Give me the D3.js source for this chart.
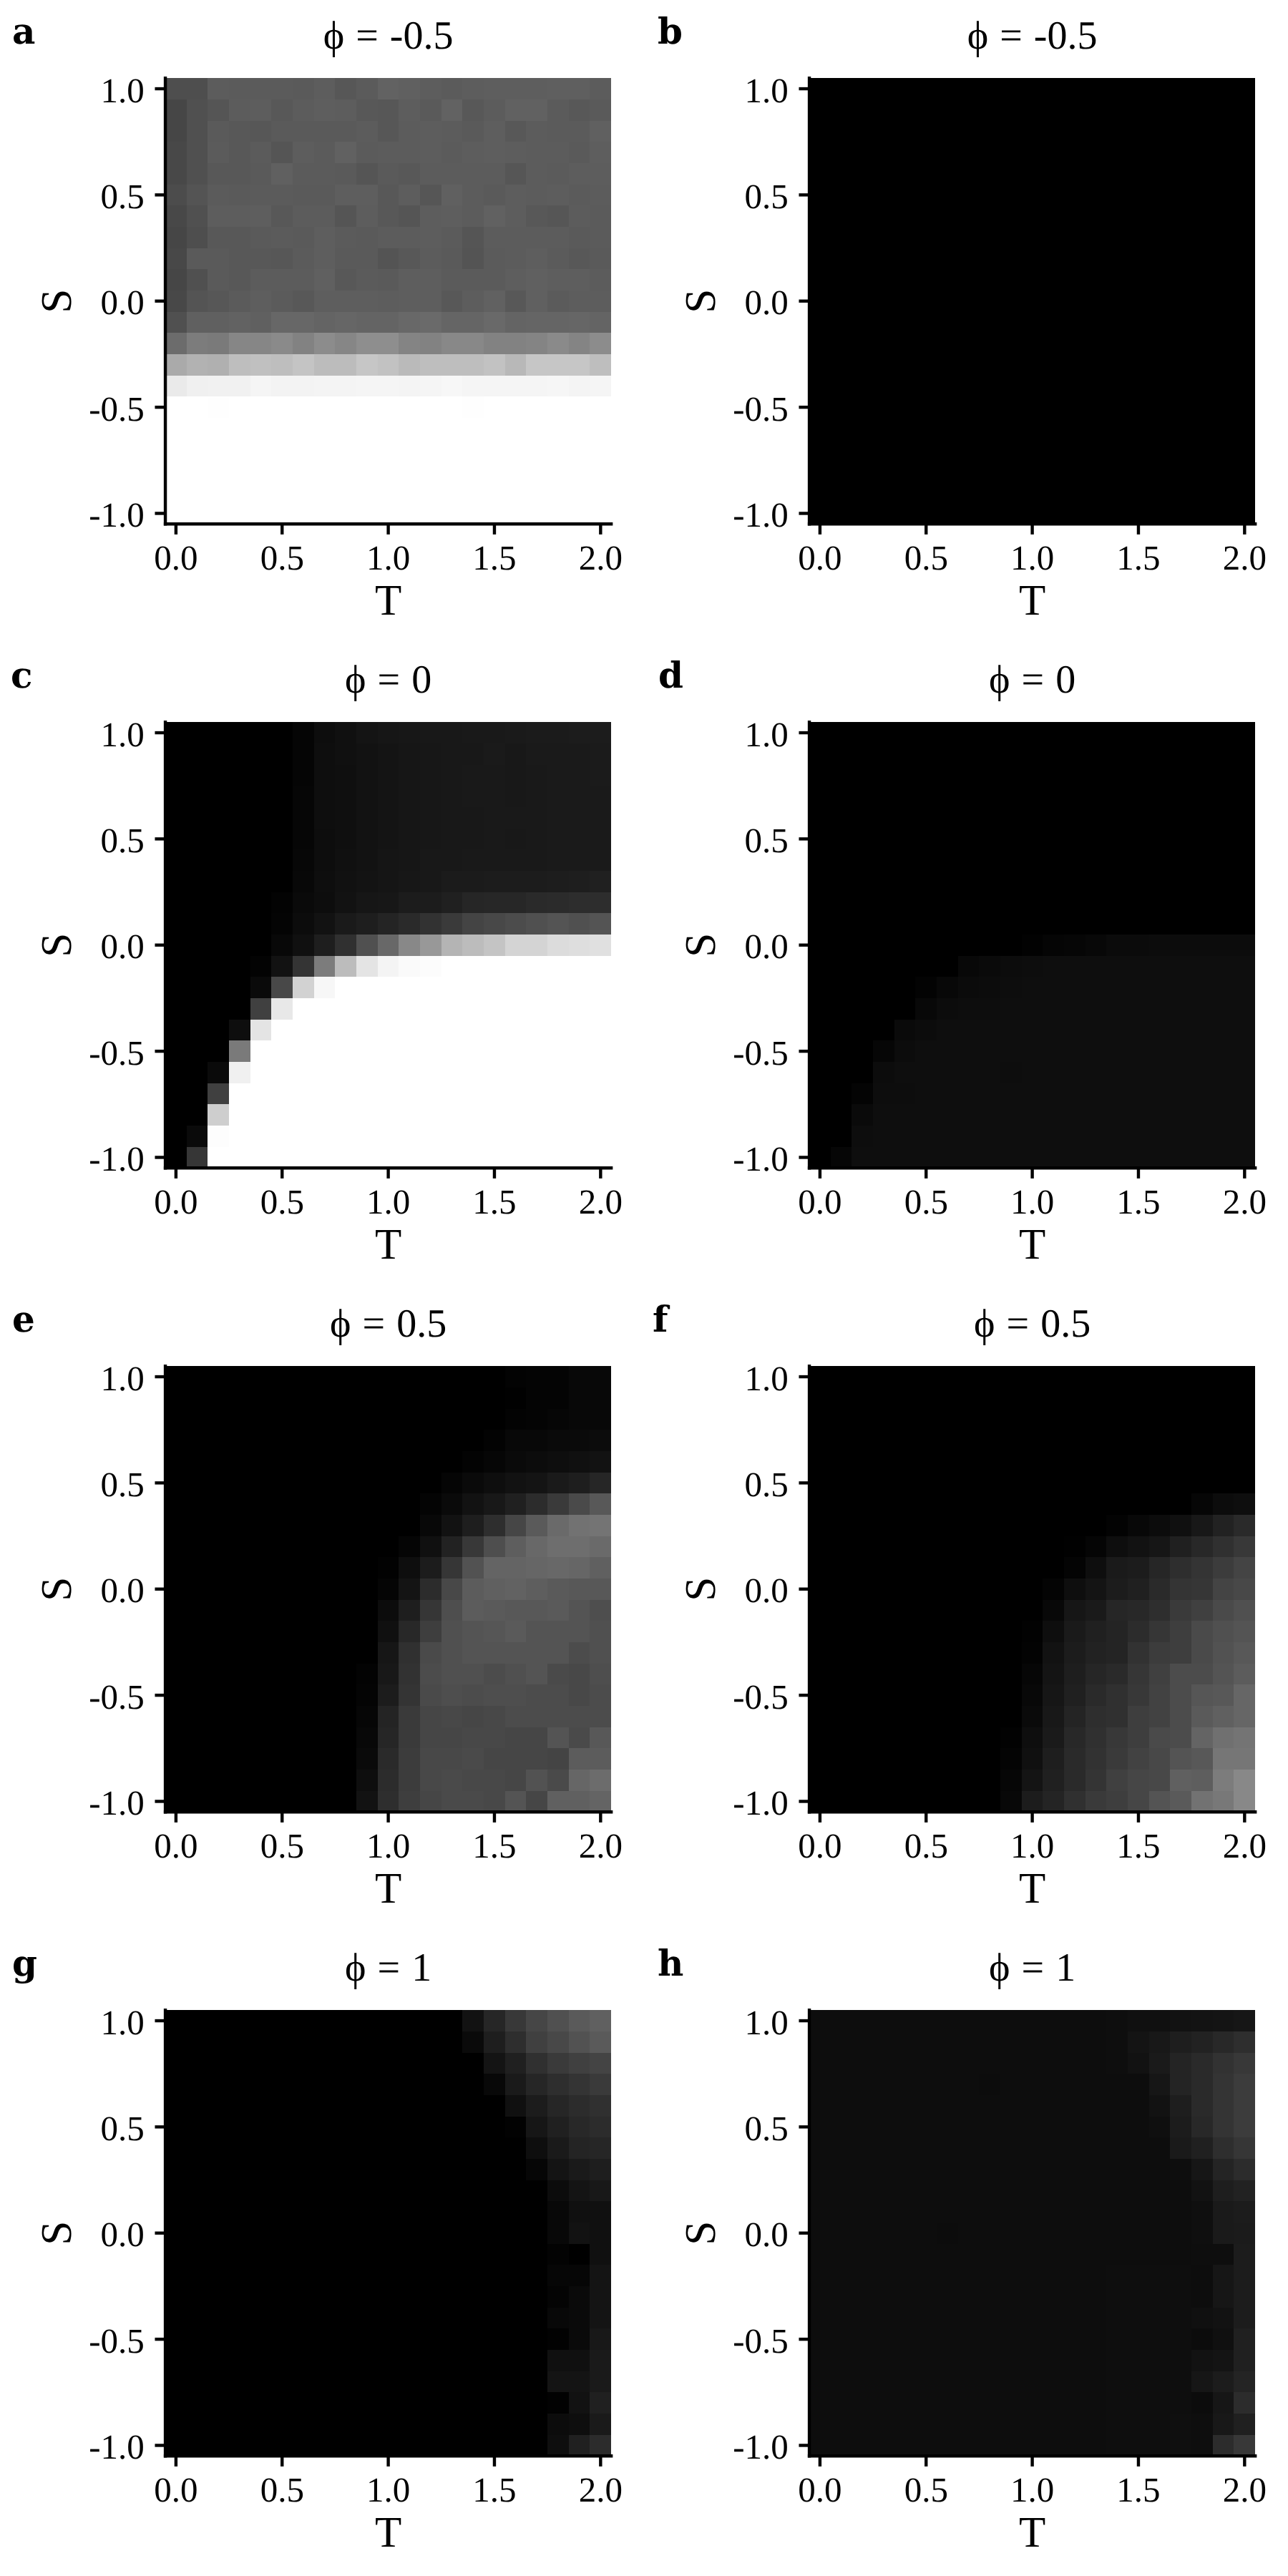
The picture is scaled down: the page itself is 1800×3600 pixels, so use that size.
<!DOCTYPE html>
<html>
<head>
<meta charset="utf-8">
<script src="https://cdn.jsdelivr.net/npm/d3@7/dist/d3.min.js"></script>
<style>
html,body{margin:0;padding:0;background:#fff}
svg{display:block}
text{font-family:"Liberation Serif",serif;fill:#000;text-rendering:geometricPrecision}
</style>
</head>
<body>
<svg id="chart" width="1800" height="3600"></svg>
<script>
// Cell values are grey levels, 0 = black, 255 = white. Rows run from S = 1.0 down to S = -1.0.
const tValues = [0,0.1,0.2,0.3,0.4,0.5,0.6,0.7,0.8,0.9,1,1.1,1.2,1.3,1.4,1.5,1.6,1.7,1.8,1.9,2];
const sValues = [1,0.9,0.8,0.7,0.6,0.5,0.4,0.3,0.2,0.1,0,-0.1,-0.2,-0.3,-0.4,-0.5,-0.6,-0.7,-0.8,-0.9,-1];
const tTicks = [0,0.5,1,1.5,2];
const sTicks = [-1,-0.5,0,0.5,1];
const letters = ["a","b","c","d","e","f","g","h"];
const titles = ["ϕ = -0.5","ϕ = -0.5","ϕ = 0","ϕ = 0","ϕ = 0.5","ϕ = 0.5","ϕ = 1","ϕ = 1"];

const panelA = [
[78,78,92,91,91,91,90,93,87,91,98,96,93,91,93,94,94,94,95,95,92],
[70,80,85,92,93,88,92,94,93,88,87,93,90,98,88,92,97,97,91,88,90],
[70,80,90,88,87,90,90,90,90,92,87,92,93,92,90,94,88,92,91,91,96],
[72,80,91,88,91,85,93,91,97,91,92,92,93,91,93,94,93,92,92,90,94],
[72,80,88,88,90,96,91,91,90,85,90,88,92,92,92,92,86,92,91,93,93],
[76,84,91,90,91,91,90,90,94,94,88,93,86,96,92,90,93,92,93,91,92],
[72,80,93,93,94,88,92,92,85,93,88,85,93,94,92,97,93,88,86,92,91],
[70,78,88,88,90,91,90,94,91,90,92,92,93,91,85,92,92,92,92,90,91],
[72,90,90,88,88,87,91,94,90,90,84,88,92,90,84,91,92,94,91,88,90],
[70,80,90,88,92,92,92,96,88,91,90,94,94,91,91,91,94,96,94,94,92],
[72,84,87,91,94,91,88,94,94,94,93,94,94,88,93,97,88,96,91,93,93],
[80,96,96,98,96,103,103,100,102,100,100,104,106,101,101,105,100,101,101,102,100],
[108,124,122,134,134,138,130,140,134,142,142,132,130,136,136,130,130,132,138,132,140],
[170,178,176,190,192,190,196,188,188,198,194,186,190,190,190,194,184,198,198,198,190],
[234,240,241,241,245,243,243,244,244,245,245,244,245,247,245,245,245,245,246,244,245],
[255,255,254,255,255,255,255,255,255,255,255,255,255,255,254,255,255,255,255,255,255],
[255,255,255,255,255,255,255,255,255,255,255,255,255,255,255,255,255,255,255,255,255],
[255,255,255,255,255,255,255,255,255,255,255,255,255,255,255,255,255,255,255,255,255],
[255,255,255,255,255,255,255,255,255,255,255,255,255,255,255,255,255,255,255,255,255],
[255,255,255,255,255,255,255,255,255,255,255,255,255,255,255,255,255,255,255,255,255],
[255,255,255,255,255,255,255,255,255,255,255,255,255,255,255,255,255,255,255,255,255]
];
const panelB = [
[0,0,0,0,0,0,0,0,0,0,0,0,0,0,0,0,0,0,0,0,0],
[0,0,0,0,0,0,0,0,0,0,0,0,0,0,0,0,0,0,0,0,0],
[0,0,0,0,0,0,0,0,0,0,0,0,0,0,0,0,0,0,0,0,0],
[0,0,0,0,0,0,0,0,0,0,0,0,0,0,0,0,0,0,0,0,0],
[0,0,0,0,0,0,0,0,0,0,0,0,0,0,0,0,0,0,0,0,0],
[0,0,0,0,0,0,0,0,0,0,0,0,0,0,0,0,0,0,0,0,0],
[0,0,0,0,0,0,0,0,0,0,0,0,0,0,0,0,0,0,0,0,0],
[0,0,0,0,0,0,0,0,0,0,0,0,0,0,0,0,0,0,0,0,0],
[0,0,0,0,0,0,0,0,0,0,0,0,0,0,0,0,0,0,0,0,0],
[0,0,0,0,0,0,0,0,0,0,0,0,0,0,0,0,0,0,0,0,0],
[0,0,0,0,0,0,0,0,0,0,0,0,0,0,0,0,0,0,0,0,0],
[0,0,0,0,0,0,0,0,0,0,0,0,0,0,0,0,0,0,0,0,0],
[0,0,0,0,0,0,0,0,0,0,0,0,0,0,0,0,0,0,0,0,0],
[0,0,0,0,0,0,0,0,0,0,0,0,0,0,0,0,0,0,0,0,0],
[0,0,0,0,0,0,0,0,0,0,0,0,0,0,0,0,0,0,0,0,0],
[0,0,0,0,0,0,0,0,0,0,0,0,0,0,0,0,0,0,0,0,0],
[0,0,0,0,0,0,0,0,0,0,0,0,0,0,0,0,0,0,0,0,0],
[0,0,0,0,0,0,0,0,0,0,0,0,0,0,0,0,0,0,0,0,0],
[0,0,0,0,0,0,0,0,0,0,0,0,0,0,0,0,0,0,0,0,0],
[0,0,0,0,0,0,0,0,0,0,0,0,0,0,0,0,0,0,0,0,0],
[0,0,0,0,0,0,0,0,0,0,0,0,0,0,0,0,0,0,0,0,0]
];
const panelC = [
[0,0,0,0,0,0,5,13,16,20,22,23,24,24,25,25,26,27,27,28,28],
[0,0,0,0,0,0,5,14,16,18,20,22,23,24,24,26,24,26,26,26,27],
[0,0,0,0,0,0,5,14,15,18,20,22,23,24,25,25,24,25,26,26,27],
[0,0,0,0,0,0,6,14,15,18,20,22,23,24,25,25,24,25,26,26,26],
[0,0,0,0,0,0,6,14,15,18,20,22,23,24,24,25,25,25,26,26,26],
[0,0,0,0,0,0,6,13,15,18,20,22,23,24,24,25,24,25,26,26,26],
[0,0,0,0,0,0,7,13,16,18,21,22,24,24,25,25,25,25,26,26,26],
[0,0,0,0,0,0,8,14,17,19,21,23,24,27,27,28,28,28,29,30,32],
[0,0,0,0,0,3,10,13,18,22,23,28,28,32,38,39,39,42,43,45,45],
[0,0,0,0,0,4,12,18,26,30,36,42,50,58,68,72,76,80,84,80,84],
[0,0,0,0,0,8,16,30,48,80,104,136,152,180,188,196,212,212,220,222,224],
[0,0,0,0,3,18,52,124,188,228,244,250,252,255,255,255,255,255,255,255,255],
[0,0,0,0,10,72,210,247,255,255,255,255,255,255,255,255,255,255,255,255,255],
[0,0,0,0,64,232,255,255,255,255,255,255,255,255,255,255,255,255,255,255,255],
[0,0,0,14,228,255,255,255,255,255,255,255,255,255,255,255,255,255,255,255,255],
[0,0,0,122,255,255,255,255,255,255,255,255,255,255,255,255,255,255,255,255,255],
[0,0,10,240,255,255,255,255,255,255,255,255,255,255,255,255,255,255,255,255,255],
[0,0,64,255,255,255,255,255,255,255,255,255,255,255,255,255,255,255,255,255,255],
[0,0,206,255,255,255,255,255,255,255,255,255,255,255,255,255,255,255,255,255,255],
[0,10,253,255,255,255,255,255,255,255,255,255,255,255,255,255,255,255,255,255,255],
[0,54,255,255,255,255,255,255,255,255,255,255,255,255,255,255,255,255,255,255,255]
];
const panelD = [
[0,0,0,0,0,0,0,0,0,0,0,0,0,0,0,0,0,0,0,0,0],
[0,0,0,0,0,0,0,0,0,0,0,0,0,0,0,0,0,0,0,0,0],
[0,0,0,0,0,0,0,0,0,0,0,0,0,0,0,0,0,0,0,0,0],
[0,0,0,0,0,0,0,0,0,0,0,0,0,0,0,0,0,0,0,0,0],
[0,0,0,0,0,0,0,0,0,0,0,0,0,0,0,0,0,0,0,0,0],
[0,0,0,0,0,0,0,0,0,0,0,0,0,0,0,0,0,0,0,0,0],
[0,0,0,0,0,0,0,0,0,0,0,0,0,0,0,0,0,0,0,0,0],
[0,0,0,0,0,0,0,0,0,0,0,0,0,0,0,0,0,0,0,0,0],
[0,0,0,0,0,0,0,0,0,0,0,0,0,0,0,0,0,0,0,0,0],
[0,0,0,0,0,0,0,0,0,0,0,0,0,0,0,0,0,0,0,0,0],
[0,0,0,0,0,0,0,0,0,0,2,5,6,8,11,11,12,12,12,12,12],
[0,0,0,0,0,0,0,8,10,12,13,14,14,14,14,14,14,14,14,14,14],
[0,0,0,0,0,3,8,11,12,13,14,14,14,14,14,14,14,14,14,14,14],
[0,0,0,0,0,8,12,13,13,14,14,14,14,14,14,14,14,14,14,14,14],
[0,0,0,0,10,12,14,14,14,14,14,14,14,14,14,14,14,14,14,14,14],
[0,0,0,6,12,14,14,14,14,14,14,14,14,14,14,14,14,14,14,14,14],
[0,0,0,12,14,14,14,14,14,13,14,14,14,14,14,14,14,14,14,14,14],
[0,0,4,13,13,14,14,14,14,14,14,14,14,14,14,14,14,14,14,14,14],
[0,0,10,14,14,14,14,14,14,14,14,14,14,14,14,14,14,14,14,14,14],
[0,0,13,14,14,14,14,14,14,14,14,14,14,14,14,14,14,14,14,14,14],
[0,6,14,14,14,14,14,14,14,14,14,14,14,14,14,14,14,14,14,14,14]
];
const panelE = [
[0,0,0,0,0,0,0,0,0,0,0,0,0,0,0,0,3,4,4,8,8],
[0,0,0,0,0,0,0,0,0,0,0,0,0,0,0,0,1,4,4,8,8],
[0,0,0,0,0,0,0,0,0,0,0,0,0,0,0,0,3,4,6,8,8],
[0,0,0,0,0,0,0,0,0,0,0,0,0,0,0,3,8,8,10,10,12],
[0,0,0,0,0,0,0,0,0,0,0,0,0,0,3,6,10,12,14,16,18],
[0,0,0,0,0,0,0,0,0,0,0,0,0,5,10,14,18,20,26,30,38],
[0,0,0,0,0,0,0,0,0,0,0,0,4,10,18,24,32,44,58,74,88],
[0,0,0,0,0,0,0,0,0,0,0,0,8,18,30,46,70,90,106,114,116],
[0,0,0,0,0,0,0,0,0,0,0,5,16,34,56,78,94,104,110,110,106],
[0,0,0,0,0,0,0,0,0,0,2,14,28,54,82,100,100,102,104,102,96],
[0,0,0,0,0,0,0,0,0,0,5,20,44,72,92,96,98,94,90,88,88],
[0,0,0,0,0,0,0,0,0,0,12,30,54,78,92,90,88,88,90,84,78],
[0,0,0,0,0,0,0,0,0,0,16,40,62,80,84,86,90,84,84,84,80],
[0,0,0,0,0,0,0,0,0,0,22,48,74,80,84,84,84,84,84,76,80],
[0,0,0,0,0,0,0,0,0,3,24,50,76,80,80,76,80,84,74,72,78],
[0,0,0,0,0,0,0,0,0,4,28,52,74,78,76,78,78,76,76,72,76],
[0,0,0,0,0,0,0,0,0,6,36,58,70,72,70,72,76,76,76,76,76],
[0,0,0,0,0,0,0,0,0,8,38,58,70,70,72,72,70,70,84,74,88],
[0,0,0,0,0,0,0,0,0,10,42,60,72,72,74,70,70,70,68,92,92],
[0,0,0,0,0,0,0,0,0,14,44,60,72,74,72,72,70,82,74,102,108],
[0,0,0,0,0,0,0,0,0,18,46,62,70,74,74,72,84,70,96,96,100]
];
const panelF = [
[0,0,0,0,0,0,0,0,0,0,0,0,0,0,0,0,0,0,0,0,0],
[0,0,0,0,0,0,0,0,0,0,0,0,0,0,0,0,0,0,0,0,0],
[0,0,0,0,0,0,0,0,0,0,0,0,0,0,0,0,0,0,0,0,0],
[0,0,0,0,0,0,0,0,0,0,0,0,0,0,0,0,0,0,0,0,0],
[0,0,0,0,0,0,0,0,0,0,0,0,0,0,0,0,0,0,0,0,0],
[0,0,0,0,0,0,0,0,0,0,0,0,0,0,0,0,0,0,0,0,0],
[0,0,0,0,0,0,0,0,0,0,0,0,0,0,0,0,0,0,6,12,14],
[0,0,0,0,0,0,0,0,0,0,0,0,0,0,3,8,12,16,24,34,42],
[0,0,0,0,0,0,0,0,0,0,0,0,1,5,14,18,22,32,40,48,56],
[0,0,0,0,0,0,0,0,0,0,0,0,4,14,26,28,38,46,52,60,68],
[0,0,0,0,0,0,0,0,0,0,0,4,14,20,28,32,42,52,54,68,72],
[0,0,0,0,0,0,0,0,0,0,0,8,22,26,38,40,46,58,64,74,80],
[0,0,0,0,0,0,0,0,0,0,2,14,26,32,36,44,54,62,74,80,84],
[0,0,0,0,0,0,0,0,0,0,3,18,28,34,36,50,60,62,74,82,88],
[0,0,0,0,0,0,0,0,0,0,6,20,30,38,42,54,64,76,76,84,92],
[0,0,0,0,0,0,0,0,0,0,8,22,32,42,48,56,66,76,86,88,102],
[0,0,0,0,0,0,0,0,0,0,10,24,36,46,48,62,66,76,90,96,102],
[0,0,0,0,0,0,0,0,0,2,14,26,40,48,56,62,74,76,100,112,116],
[0,0,0,0,0,0,0,0,0,4,16,30,42,50,58,66,72,84,88,118,118],
[0,0,0,0,0,0,0,0,0,6,20,32,42,52,64,70,72,96,94,124,136],
[0,0,0,0,0,0,0,0,0,8,28,36,48,58,62,70,84,90,114,120,136]
];
const panelG = [
[0,0,0,0,0,0,0,0,0,0,0,0,0,0,18,38,56,70,80,90,96],
[0,0,0,0,0,0,0,0,0,0,0,0,0,0,10,30,46,64,72,82,90],
[0,0,0,0,0,0,0,0,0,0,0,0,0,0,0,20,32,48,58,64,68],
[0,0,0,0,0,0,0,0,0,0,0,0,0,0,0,8,26,38,46,52,58],
[0,0,0,0,0,0,0,0,0,0,0,0,0,0,0,0,16,28,38,44,48],
[0,0,0,0,0,0,0,0,0,0,0,0,0,0,0,0,2,22,32,40,44],
[0,0,0,0,0,0,0,0,0,0,0,0,0,0,0,0,0,14,26,36,38],
[0,0,0,0,0,0,0,0,0,0,0,0,0,0,0,0,0,6,20,26,30],
[0,0,0,0,0,0,0,0,0,0,0,0,0,0,0,0,0,0,12,20,24],
[0,0,0,0,0,0,0,0,0,0,0,0,0,0,0,0,0,0,8,16,16],
[0,0,0,0,0,0,0,0,0,0,0,0,0,0,0,0,0,0,8,18,16],
[0,0,0,0,0,0,0,0,0,0,0,0,0,0,0,0,0,0,3,0,16],
[0,0,0,0,0,0,0,0,0,0,0,0,0,0,0,0,0,0,6,6,20],
[0,0,0,0,0,0,0,0,0,0,0,0,0,0,0,0,0,0,4,10,20],
[0,0,0,0,0,0,0,0,0,0,0,0,0,0,0,0,0,0,8,10,20],
[0,0,0,0,0,0,0,0,0,0,0,0,0,0,0,0,0,0,2,10,24],
[0,0,0,0,0,0,0,0,0,0,0,0,0,0,0,0,0,0,16,16,26],
[0,0,0,0,0,0,0,0,0,0,0,0,0,0,0,0,0,0,20,20,26],
[0,0,0,0,0,0,0,0,0,0,0,0,0,0,0,0,0,0,2,18,32],
[0,0,0,0,0,0,0,0,0,0,0,0,0,0,0,0,0,0,12,14,26],
[0,0,0,0,0,0,0,0,0,0,0,0,0,0,0,0,0,0,14,32,44]
];
const panelH = [
[13,13,13,13,13,13,13,13,13,13,13,13,13,13,14,16,16,18,19,20,22],
[13,13,13,13,13,13,13,13,13,13,13,13,13,13,14,20,24,30,34,40,46],
[13,13,13,13,13,13,13,13,13,13,13,13,13,13,14,18,26,36,42,50,56],
[13,13,13,13,13,13,13,13,12,13,13,13,13,13,13,13,22,36,42,52,60],
[13,13,13,13,13,13,13,13,13,13,13,13,13,13,13,13,18,30,42,52,60],
[13,13,13,13,13,13,13,13,13,13,13,13,13,13,13,13,15,28,40,52,60],
[13,13,13,13,13,13,13,13,13,13,13,13,13,13,13,13,13,26,32,46,54],
[13,13,13,13,13,13,13,13,13,13,13,13,13,13,13,13,13,14,22,36,44],
[13,13,13,13,13,13,13,13,13,13,13,13,13,13,13,13,13,13,18,30,34],
[13,13,13,13,13,13,13,13,13,13,13,13,13,13,13,13,13,13,15,26,28],
[13,13,13,13,13,13,12,13,13,13,13,13,13,13,13,13,13,13,15,26,27],
[13,13,13,13,13,13,13,13,13,13,13,13,13,13,13,13,13,13,14,14,28],
[13,13,13,13,13,13,13,13,13,13,13,13,13,13,14,14,14,14,13,22,28],
[13,13,13,13,13,13,13,13,13,13,13,13,13,13,14,14,14,14,13,22,28],
[13,13,13,13,13,13,13,13,13,13,13,13,13,13,14,14,14,14,16,18,28],
[13,13,13,13,13,13,13,13,13,13,13,13,13,13,14,14,14,14,12,16,32],
[13,13,13,13,13,13,13,13,13,13,13,13,13,13,14,14,14,14,18,20,32],
[13,13,13,13,13,13,13,13,13,13,13,13,13,13,14,14,14,14,22,28,36],
[13,13,13,13,13,13,13,13,13,13,13,13,13,13,14,14,14,14,12,22,44],
[13,13,13,13,13,13,13,13,13,13,13,13,13,13,14,14,14,15,14,24,32],
[13,13,13,13,13,13,13,13,13,13,13,13,13,13,14,14,14,15,14,44,56]
];

const panels = [panelA,panelB,panelC,panelD,panelE,panelF,panelG,panelH];
const letterLeft = [17,919,15,920,17,912,17,919];

const svg = d3.select("#chart");
const colOffset = 900, rowOffset = 900;
const plotLeft = 231.06, plotTop = 109.2, plotSize = 623.1;
const half = 0.05;

const color = d3.scaleLinear().domain([0,255]).range(["#000000","#ffffff"]);
const x = d3.scaleLinear().domain([-half,2+half]).range([0,plotSize]);
const y = d3.scaleLinear().domain([1+half,-1-half]).range([0,plotSize]);

panels.forEach((grid,p)=>{
  const cx = (p%2)*colOffset, cy = Math.floor(p/2)*rowOffset;
  const g = svg.append("g").attr("transform",`translate(${plotLeft+cx},${plotTop+cy})`);

  const cells = grid.flatMap((row,r)=>row.map((v,c)=>({v,c,r})));
  g.append("g").attr("shape-rendering","crispEdges")
    .selectAll("rect").data(cells).join("rect")
    .attr("x",d=>x(-half+d.c*0.1))
    .attr("y",d=>y(1+half-d.r*0.1))
    .attr("width",d=>x(-half+(d.c+1)*0.1)-x(-half+d.c*0.1))
    .attr("height",d=>y(1+half-(d.r+1)*0.1)-y(1+half-d.r*0.1))
    .attr("fill",d=>color(d.v));

  const fmt = d=>d.toFixed(1);
  const ax = g.append("g").attr("transform",`translate(0,${plotSize})`)
    .call(d3.axisBottom(x).tickValues(tTicks).tickFormat(fmt).tickSize(14.6).tickSizeOuter(0).tickPadding(14).offset(0));
  const ay = g.append("g")
    .call(d3.axisLeft(y).tickValues(sTicks).tickFormat(fmt).tickSize(14.6).tickSizeOuter(0).tickPadding(14.7).offset(0));
  [ax,ay].forEach(a=>{
    a.attr("font-family",null).attr("font-size",null);
    a.select(".domain").attr("stroke","#000").attr("stroke-width",4.4).attr("stroke-linecap","square");
    a.selectAll(".tick line").attr("stroke","#000").attr("stroke-width",4.4);
    a.selectAll(".tick text").style("font-size","49px").attr("fill","#000");
  });
  ay.selectAll(".tick text").attr("dy","0.38em");

  g.append("text").attr("x",x(1)).attr("y",plotSize+126.6).attr("text-anchor","middle")
    .style("font-size","61px").text("T");
  g.append("text").attr("transform",`translate(-132,${plotSize/2}) rotate(-90)`)
    .attr("text-anchor","middle").style("font-size","61px").text("S");
  g.append("text").attr("x",x(1)).attr("y",-41.5).attr("text-anchor","middle")
    .style("font-size","56px").style("word-spacing","2px").text(titles[p]);
  svg.append("text").attr("x",letterLeft[p]).attr("y",60.7+cy)
    .style("font-family","'DejaVu Serif',serif").style("font-weight","700").style("font-size","50px")
    .text(letters[p]);
});
</script>
</body>
</html>
